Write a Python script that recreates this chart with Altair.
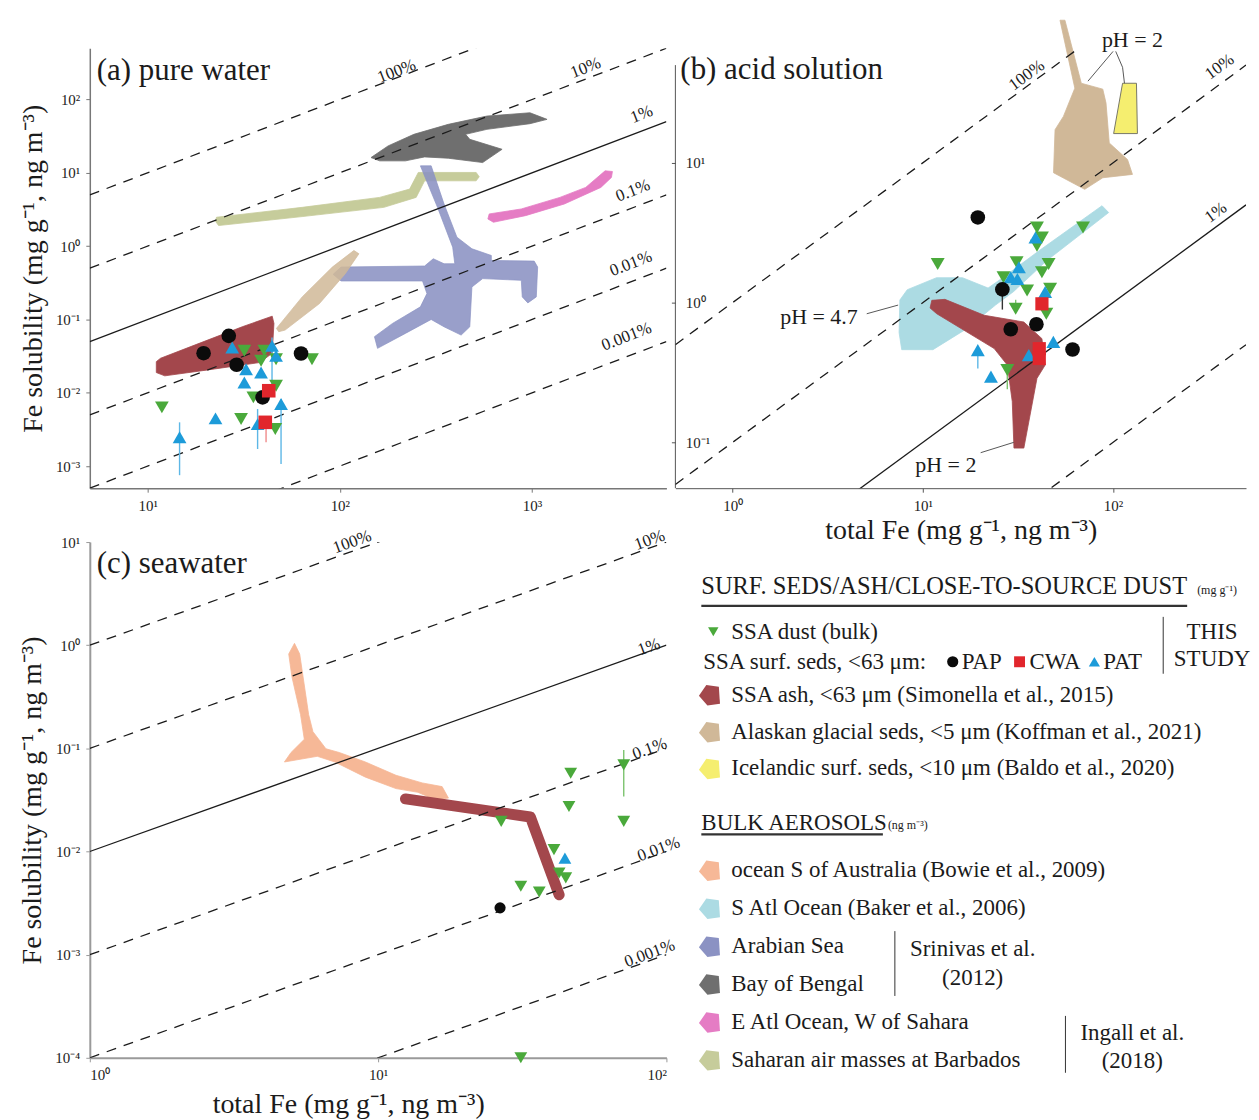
import altair as alt
import pandas as pd

FONT = "Liberation Serif"
INK = "#1b1b1b"

C_ASH, C_TAN, C_YEL = "#a3474c", "#d0b898", "#f5ee6f"
C_PEACH, C_LBLUE, C_ARAB = "#f6b897", "#acdbe3", "#8b92c3"
C_BENG, C_PINK, C_OLIVE = "#6f6f6f", "#e57cc4", "#c6cc9b"
C_GREEN, C_BLUE, C_RED, C_BLACK = "#4aa93b", "#1d9bd9", "#e1262c", "#0b0b0b"

Y_TITLE = "Fe solubility (mg g⁻¹, ng m⁻³)"
X_TITLE = "total Fe (mg g⁻¹, ng m⁻³)"
PANEL_TITLES = ["(a) pure water", "(b) acid solution", "(c) seawater"]
PCT_VALUES = [100, 10, 1, 0.1, 0.01, 0.001]
PCT_LABELS = ["100%", "10%", "1%", "0.1%", "0.01%", "0.001%"]

A_XEXP, A_YEXP = [1, 2, 3], [-3, -2, -1, 0, 1, 2]
B_XEXP, B_YEXP = [0, 1, 2], [-1, 0, 1]
C_XEXP, C_YEXP = [0, 1, 2], [-4, -3, -2, -1, 0, 1]

# ---------------- panel (a) pure water  (values are log10 of total Fe / Fe solubility)
A_OLIVE_LX = [1.358, 1.804, 2.207, 2.363, 2.408, 2.709, 2.725, 2.709, 2.441, 2.397, 2.229, 1.804, 1.369, 1.353]
A_OLIVE_LY = [0.394, 0.529, 0.665, 0.778, 1.005, 1.005, 0.946, 0.891, 0.891, 0.665, 0.529, 0.403, 0.281, 0.339]
A_PINK_LX = [2.777, 2.944, 3.145, 3.279, 3.380, 3.418, 3.413, 3.358, 3.168, 2.966, 2.799, 2.770]
A_PINK_LY = [0.439, 0.507, 0.665, 0.801, 1.027, 1.018, 0.937, 0.801, 0.575, 0.416, 0.326, 0.371]
A_BENG_LX = [2.162, 2.251, 2.385, 2.564, 2.765, 2.989, 3.078, 2.989, 2.765, 2.654, 2.676, 2.844, 2.743, 2.564, 2.441, 2.341, 2.207]
A_BENG_LY = [1.208, 1.367, 1.525, 1.661, 1.774, 1.819, 1.729, 1.670, 1.593, 1.525, 1.457, 1.321, 1.140, 1.199, 1.217, 1.163, 1.163]
A_ARAB_LX = [2.419, 2.475, 2.542, 2.609, 2.687, 2.788, 2.788, 3.011, 3.029, 3.022, 2.978, 2.949, 2.944, 2.743, 2.687,
             2.676, 2.631, 2.542, 2.475, 2.341, 2.196, 2.180, 2.274, 2.419, 2.453, 2.430, 2.006, 1.965, 2.006, 2.441,
             2.486, 2.542, 2.598, 2.587, 2.508]
A_ARAB_LY = [1.095, 1.095, 0.575, 0.122, -0.036, -0.127, -0.195, -0.204, -0.285, -0.692, -0.774, -0.692, -0.466, -0.443,
             -0.557, -1.100, -1.213, -1.100, -1.000, -1.190, -1.394, -1.235, -1.054, -0.828, -0.647, -0.475, -0.475,
             -0.385, -0.285, -0.271, -0.172, -0.240, -0.240, -0.014, 0.529]
A_TAN_LX = [1.670, 1.804, 1.961, 2.073, 2.099, 2.028, 1.894, 1.715, 1.682]
A_TAN_LY = [-1.122, -0.692, -0.285, -0.059, -0.104, -0.376, -0.783, -1.145, -1.167]
A_ASH_LX = [1.045, 1.067, 1.268, 1.492, 1.648, 1.657, 1.648, 1.581, 1.313, 1.089, 1.045]
A_ASH_LY = [-1.575, -1.529, -1.326, -1.100, -0.955, -1.054, -1.462, -1.588, -1.688, -1.769, -1.724]
A_PAP_LX = [1.291, 1.422, 1.463, 1.798, 1.598]
A_PAP_LY = [-1.460, -1.223, -1.618, -1.464, -2.063]
A_CWA_LX = [1.630, 1.612]
A_CWA_LY = [-1.972, -2.403]
A_PAT_LX = [1.166, 1.353, 1.440, 1.512, 1.503, 1.590, 1.647, 1.694, 1.572, 1.668]
A_PAT_LY = [-2.607, -2.349, -1.383, -1.678, -1.859, -1.723, -1.360, -2.154, -2.427, -1.496]
A_DUST_LX = [1.074, 1.486, 1.503, 1.590, 1.668, 1.855, 1.550, 1.668, 1.664, 1.607]
A_DUST_LY = [-2.199, -2.358, -1.427, -1.563, -1.542, -1.542, -2.063, -1.904, -2.494, -1.427]
A_ERRB_LX, A_ERRB_HI, A_ERRB_LO = [1.166, 1.647, 1.694, 1.572], [-2.403, -1.247, -2.086, -2.222], [-3.124, -2.036, -2.970, -2.767]
A_ERRR_LX, A_ERRR_HI, A_ERRR_LO = [1.616], [-2.403], [-2.675]
A_PCT_LX = [2.296, 3.279, 3.570, 3.525, 3.514, 3.492]
A_PCT_LY = [2.385, 2.430, 1.796, 0.756, -0.240, -1.235]

# ---------------- panel (b) acid solution
B_TAN_LX = [1.721, 1.747, 1.833, 1.946, 1.963, 1.980, 2.076, 2.102, 1.946, 1.851, 1.687, 1.695, 1.739, 1.799]
B_TAN_LY = [2.020, 2.020, 1.569, 1.527, 1.427, 1.142, 1.023, 0.917, 0.893, 0.810, 0.929, 1.237, 1.332, 1.534]
B_YEL_LX = [2.050, 2.123, 2.128, 2.003]
B_YEL_LY = [1.569, 1.569, 1.209, 1.209]
B_LBLUE_LX = [0.879, 0.918, 1.072, 1.208, 1.343, 1.420, 1.614, 1.942, 1.977, 1.652, 1.478, 1.382, 1.227, 1.053, 0.889, 0.875]
B_LBLUE_LY = [0.018, 0.092, 0.178, 0.178, 0.104, 0.178, 0.374, 0.693, 0.644, 0.301, 0.080, -0.018, -0.190, -0.337, -0.337, -0.215]
B_ASH_LX = [1.047, 1.116, 1.323, 1.531, 1.626, 1.643, 1.600, 1.531, 1.479, 1.470, 1.444, 1.375, 1.073, 1.038]
B_ASH_LY = [0.016, 0.023, -0.091, -0.139, -0.258, -0.447, -0.542, -1.041, -1.041, -0.708, -0.447, -0.329, -0.080, -0.039]
B_PAP_LX = [1.289, 1.418, 1.462, 1.597, 1.787]
B_PAP_LY = [0.609, 0.094, -0.191, -0.155, -0.336]
B_CWA_LX = [1.626, 1.612, 1.612]
B_CWA_LY = [-0.009, -0.330, -0.400]
B_PAT_LX = [1.592, 1.505, 1.497, 1.462, 1.643, 1.686, 1.289, 1.358, 1.557]
B_PAT_LY = [0.466, 0.253, 0.169, 0.181, 0.075, -0.281, -0.340, -0.530, -0.376]
B_DUST_LX = [1.078, 1.600, 1.626, 1.600, 1.842, 1.493, 1.424, 1.548, 1.626, 1.661, 1.669, 1.649, 1.488, 1.444]
B_DUST_LY = [0.276, 0.537, 0.466, 0.407, 0.537, 0.288, 0.181, 0.087, 0.217, 0.276, 0.098, -0.080, -0.044, -0.483]
B_ERRK_LX, B_ERRK_HI, B_ERRK_LO = [1.418], [0.094], [-0.050]
B_ERRB_LX, B_ERRB_HI, B_ERRB_LO = [1.289], [-0.340], [-0.471]
B_ERRG_LX, B_ERRG_HI, B_ERRG_LO = [1.488, 1.444], [0.020, -0.483], [-0.044, -0.620]
B_PCT_LX = [1.546, 2.560, 2.541]
B_PCT_LY = [1.626, 1.687, 0.644]
B_PH_TEXT = ["pH = 4.7", "pH = 2", "pH = 2"]
B_PH_LX = [0.454, 1.121, 2.102]
B_PH_LY = [-0.104, -1.160, 1.875]
B_LEAD_ID = ["l1", "l1", "l2", "l2", "l3", "l3", "l4", "l4", "l4"]
B_LEAD_LX = [0.705, 0.870, 1.304, 1.478, 2.000, 1.868, 2.014, 2.050, 2.060]
B_LEAD_LY = [-0.080, -0.018, -1.074, -1.000, 1.797, 1.584, 1.797, 1.683, 1.569]

# ---------------- panel (c) seawater
C_PEACH_LX = [0.690, 0.710, 0.728, 0.759, 0.774, 0.819, 0.865, 0.956, 1.062, 1.153, 1.222, 1.244, 1.199, 1.138,
              1.062, 0.956, 0.850, 0.789, 0.675, 0.698, 0.744, 0.731, 0.701]
C_PEACH_LY = [-0.085, 0.018, -0.085, -0.673, -0.838, -1.004, -1.040, -1.132, -1.261, -1.335, -1.371, -1.482, -1.500,
              -1.426, -1.390, -1.279, -1.132, -1.077, -1.132, -1.040, -0.912, -0.673, -0.305]
C_ASH_LX = [1.095, 1.528, 1.628]
C_ASH_LY = [-1.490, -1.665, -2.420]
C_DUST_LX = [1.668, 1.662, 1.427, 1.852, 1.852, 1.610, 1.628, 1.651, 1.495, 1.559, 1.495]
C_DUST_LY = [-1.241, -1.563, -1.708, -1.160, -1.708, -1.982, -2.208, -2.256, -2.337, -2.392, -4.000]
C_PAT_LX, C_PAT_LY = [1.648], [-2.064]
C_PAP_LX, C_PAP_LY = [1.423], [-2.546]
C_ERRG_LX, C_ERRG_HI, C_ERRG_LO = [1.852], [-1.015], [-1.466]
C_PCT_LX = [0.910, 1.942, 1.939, 1.942, 1.973, 1.942]
C_PCT_LY = [1.000, 1.018, -0.018, -1.004, -1.978, -2.989]

PANEL_TITLE_LX = [0.735, -0.275, 0.024]
PANEL_TITLE_LY = [2.386, 1.662, 0.787]

# ---------------- legend text
LEG_H1, LEG_H1_UNIT = "SURF. SEDS/ASH/CLOSE-TO-SOURCE DUST", "(mg g⁻¹)"
LEG_H2, LEG_H2_UNIT = "BULK AEROSOLS", "(ng m⁻³)"
LEG_DUST = "SSA dust (bulk)"
LEG_SEDS = "SSA surf. seds, <63 μm:"
LEG_SITES = ["PAP", "CWA", "PAT"]
LEG_THIS = ["THIS", "STUDY"]
LEG_REF1 = ["SSA ash, <63 μm (Simonella et al., 2015)",
            "Alaskan glacial seds, <5 μm (Koffman et al., 2021)",
            "Icelandic surf. seds, <10 μm (Baldo et al., 2020)"]
LEG_REF1_COL = [C_ASH, C_TAN, C_YEL]
LEG_REF2 = ["ocean S of Australia (Bowie et al., 2009)", "S Atl Ocean (Baker et al., 2006)", "Arabian Sea",
            "Bay of Bengal", "E Atl Ocean, W of Sahara", "Saharan air masses at Barbados"]
LEG_REF2_COL = [C_PEACH, C_LBLUE, C_ARAB, C_BENG, C_PINK, C_OLIVE]
LEG_SRIN = ["Srinivas et al.", "(2012)"]
LEG_INGALL = ["Ingall et al.", "(2018)"]

# =====================================================================
SUP = {"0": "⁰", "1": "¹", "2": "²", "3": "³", "4": "⁴", "5": "⁵", "6": "⁶",
       "7": "⁷", "8": "⁸", "9": "⁹", "-": "⁻"}
TITLE_SIZE = 31
AXIS_TITLE_SIZE = 28
PCT_SIZE = 17
LEG_SIZE = 23


def pow_label(e):
    return "10" + "".join(SUP[c] for c in str(e))


def label_expr(exps):
    s = "''"
    for e in reversed(exps):
        s = f"(round(log(datum.value)/LN10)=={e}) ? '{pow_label(e)}' : {s}"
    return s


def L(v):
    return [10.0 ** t for t in v]


def frame(lx, ly, **extra):
    d = {"x": L(lx), "y": L(ly), "o": list(range(len(lx)))}
    d.update(extra)
    return pd.DataFrame(d)


def mk_axis(exps, title, color, **kw):
    base = dict(values=[10.0 ** e for e in exps], labelExpr=label_expr(exps), title=title, grid=False,
                domainColor=color, tickColor=color, tickSize=4, labelFont=FONT, labelFontSize=15,
                labelColor=INK, titleFont=FONT, titleFontSize=AXIS_TITLE_SIZE, titleFontWeight="normal",
                titleColor=INK)
    base.update(kw)
    return alt.Axis(**base)


def poly(lx, ly, X, Y, color, op=1.0, stroke=None, sw=0.8):
    return alt.Chart(frame(lx, ly)).mark_line(
        interpolate="linear-closed", fill=color, fillOpacity=op, stroke=stroke or color,
        strokeOpacity=1.0 if stroke else op, strokeWidth=sw, clip=False
    ).encode(x=X, y=Y, order="o:Q")


def pts(lx, ly, X, Y, shape, color, size):
    return alt.Chart(frame(lx, ly)).mark_point(
        shape=shape, filled=True, color=color, size=size, opacity=1, strokeWidth=0, clip=False
    ).encode(x=X, y=Y)


def errs(lx, hi, lo, X, Y, color, sw=1.4):
    df = pd.DataFrame({"x": L(lx), "y": L(hi), "y2": L(lo)})
    return alt.Chart(df).mark_rule(color=color, strokeWidth=sw).encode(x=X, y=Y, y2="y2:Q")


def iso(vals, labs, xdom, X, Y, dashed=True):
    rows = [{"lab": lab, "x": xv, "y": p / 100.0 * xv} for p, lab in zip(vals, labs) for xv in xdom]
    kw = dict(color=INK, strokeWidth=1.3, clip=True)
    if dashed:
        kw["strokeDash"] = [10, 8]
    return alt.Chart(pd.DataFrame(rows)).mark_line(**kw).encode(x=X, y=Y, detail="lab:N")


def texts(lx, ly, t, X, Y, size, angle=0, align="center", color=INK):
    df = frame(lx, ly, t=t)
    return alt.Chart(df).mark_text(font=FONT, fontSize=size, align=align, baseline="middle",
                                   color=color, angle=angle).encode(x=X, y=Y, text="t:N")


def iso_pair(vals, labs, xdom, X, Y):
    dv = [(v, l) for v, l in zip(vals, labs) if v != 1]
    return [iso([v for v, _ in dv], [l for _, l in dv], xdom, X, Y, True),
            iso([1], ["1%"], xdom, X, Y, False)]


# ---------------- panel (a)
A_XDOM, A_YDOM = [5, 5000], [5e-4, 500]
XA = alt.X("x:Q", scale=alt.Scale(type="log", domain=A_XDOM, nice=False),
           axis=mk_axis(A_XEXP, None, "#777777", labelPadding=6, domainWidth=1.5))
YA = alt.Y("y:Q", scale=alt.Scale(type="log", domain=A_YDOM, nice=False),
           axis=mk_axis(A_YEXP, Y_TITLE, "#777777", labelPadding=6, titlePadding=8, domainWidth=1.5))
pa = alt.layer(
    poly(A_OLIVE_LX, A_OLIVE_LY, XA, YA, C_OLIVE),
    poly(A_PINK_LX, A_PINK_LY, XA, YA, C_PINK),
    poly(A_BENG_LX, A_BENG_LY, XA, YA, C_BENG),
    poly(A_ARAB_LX, A_ARAB_LY, XA, YA, C_ARAB, op=0.88),
    poly(A_TAN_LX, A_TAN_LY, XA, YA, C_TAN, op=0.85),
    poly(A_ASH_LX, A_ASH_LY, XA, YA, C_ASH),
    *iso_pair(PCT_VALUES, PCT_LABELS, A_XDOM, XA, YA),
    texts(A_PCT_LX, A_PCT_LY, PCT_LABELS, XA, YA, PCT_SIZE, angle=339),
    texts(PANEL_TITLE_LX[:1], PANEL_TITLE_LY[:1], PANEL_TITLES[:1], XA, YA, TITLE_SIZE, align="left"),
    errs(A_ERRB_LX, A_ERRB_HI, A_ERRB_LO, XA, YA, "#5db7e6"),
    errs(A_ERRR_LX, A_ERRR_HI, A_ERRR_LO, XA, YA, "#f08a8a"),
    pts(A_DUST_LX, A_DUST_LY, XA, YA, "triangle-down", C_GREEN, 190),
    pts(A_PAP_LX, A_PAP_LY, XA, YA, "circle", C_BLACK, 215),
    pts(A_PAT_LX, A_PAT_LY, XA, YA, "triangle-up", C_BLUE, 190),
    pts(A_CWA_LX, A_CWA_LY, XA, YA, "square", C_RED, 185),
).properties(width=578, height=441)

# ---------------- panel (b)
B_XDOM, B_YDOM = [0.5, 500], [0.047, 66]
XB = alt.X("x:Q", scale=alt.Scale(type="log", domain=B_XDOM, nice=False),
           axis=mk_axis(B_XEXP, X_TITLE, "#555555", labelPadding=6, titlePadding=3))
YB = alt.Y("y:Q", scale=alt.Scale(type="log", domain=B_YDOM, nice=False),
           axis=mk_axis(B_YEXP, None, "#555555", domain=False, labelAlign="left", labelPadding=-14))
b_axis_line = alt.Chart(pd.DataFrame({"x": [B_XDOM[0]], "y": [B_YDOM[0]], "y2": [50.0]})).mark_rule(
    color="#555555", strokeWidth=1).encode(x=XB, y=YB, y2="y2:Q")
b_lead = alt.Chart(frame(B_LEAD_LX, B_LEAD_LY, g=B_LEAD_ID)).mark_line(
    color="#444444", strokeWidth=0.9, clip=False).encode(x=XB, y=YB, detail="g:N", order="o:Q")
pb = alt.layer(
    b_axis_line,
    poly(B_LBLUE_LX, B_LBLUE_LY, XB, YB, C_LBLUE),
    poly(B_TAN_LX, B_TAN_LY, XB, YB, C_TAN),
    poly(B_YEL_LX, B_YEL_LY, XB, YB, C_YEL, stroke="#777766", sw=1),
    poly(B_ASH_LX, B_ASH_LY, XB, YB, C_ASH),
    *iso_pair(PCT_VALUES[:4], PCT_LABELS[:4], B_XDOM, XB, YB),
    texts(B_PCT_LX, B_PCT_LY, PCT_LABELS[:3], XB, YB, PCT_SIZE, angle=324),
    texts(PANEL_TITLE_LX[1:2], PANEL_TITLE_LY[1:2], PANEL_TITLES[1:2], XB, YB, TITLE_SIZE, align="left"),
    b_lead,
    texts(B_PH_LX, B_PH_LY, B_PH_TEXT, XB, YB, 22),
    errs(B_ERRK_LX, B_ERRK_HI, B_ERRK_LO, XB, YB, "#333333"),
    errs(B_ERRB_LX, B_ERRB_HI, B_ERRB_LO, XB, YB, "#5db7e6"),
    errs(B_ERRG_LX, B_ERRG_HI, B_ERRG_LO, XB, YB, "#7cc36e"),
    pts(B_DUST_LX, B_DUST_LY, XB, YB, "triangle-down", C_GREEN, 195),
    pts(B_PAT_LX, B_PAT_LY, XB, YB, "triangle-up", C_BLUE, 195),
    pts(B_PAP_LX, B_PAP_LY, XB, YB, "circle", C_BLACK, 215),
    pts(B_CWA_LX, B_CWA_LY, XB, YB, "square", C_RED, 175),
).properties(width=572, height=441)

# ---------------- panel (c)
C_XDOM, C_YDOM = [1, 100], [1e-4, 10]
XC = alt.X("x:Q", scale=alt.Scale(type="log", domain=C_XDOM, nice=False),
           axis=mk_axis(C_XEXP, X_TITLE, "#9a9a9a", labelPadding=6, titlePadding=8, titleX=259, domainWidth=2))
YC = alt.Y("y:Q", scale=alt.Scale(type="log", domain=C_YDOM, nice=False),
           axis=mk_axis(C_YEXP, Y_TITLE, "#9a9a9a", labelPadding=6, titlePadding=8, domainWidth=2))
c_ash = alt.Chart(frame(C_ASH_LX, C_ASH_LY)).mark_line(
    color=C_ASH, strokeWidth=11, strokeCap="round", strokeJoin="round", clip=False
).encode(x=XC, y=YC, order="o:Q")
pc = alt.layer(
    poly(C_PEACH_LX, C_PEACH_LY, XC, YC, C_PEACH),
    c_ash,
    *iso_pair(PCT_VALUES, PCT_LABELS, C_XDOM, XC, YC),
    texts(C_PCT_LX, C_PCT_LY, PCT_LABELS, XC, YC, PCT_SIZE, angle=340),
    texts(PANEL_TITLE_LX[2:], PANEL_TITLE_LY[2:], PANEL_TITLES[2:], XC, YC, TITLE_SIZE, align="left"),
    errs(C_ERRG_LX, C_ERRG_HI, C_ERRG_LO, XC, YC, "#7cc36e"),
    pts(C_DUST_LX, C_DUST_LY, XC, YC, "triangle-down", C_GREEN, 165),
    pts(C_PAT_LX, C_PAT_LY, XC, YC, "triangle-up", C_BLUE, 165),
    pts(C_PAP_LX, C_PAP_LY, XC, YC, "circle", C_BLACK, 125),
).properties(width=578, height=517)

# ---------------- legend panel (pixel-like linear coordinates)
XL = alt.X("x:Q", scale=alt.Scale(domain=[0, 560], nice=False, zero=False), axis=None)
YL = alt.Y("y:Q", scale=alt.Scale(domain=[0, 517], reverse=True, nice=False, zero=False), axis=None)

head_rows = [(26, 45, LEG_H1)]
left_rows = [(56, 90, LEG_DUST), (28, 120, LEG_SEDS)]
left_rows += [(xx, 120, s) for xx, s in zip([287, 355, 429], LEG_SITES)]
left_rows += [(56, 153 + 37 * i, s) for i, s in enumerate(LEG_REF1)]
left_rows += [(26, 282, LEG_H2)]
left_rows += [(56, 329 + 38 * i, s) for i, s in enumerate(LEG_REF2)]
center_rows = [(538, 90, LEG_THIS[0]), (538, 117, LEG_THIS[1]),
               (298, 408, LEG_SRIN[0]), (298, 437, LEG_SRIN[1]),
               (458, 492, LEG_INGALL[0]), (458, 520, LEG_INGALL[1])]
unit_rows = [(523, 48, LEG_H1_UNIT), (213, 284, LEG_H2_UNIT)]
rule_rows = [(26, 513, 64, 64, 2.2), (26, 208, 293, 293, 2.2),
             (489, 489, 75, 132, 1.0), (220, 220, 390, 455, 1.0), (391, 391, 475, 532, 1.0)]
swatch_rows = [(35, 153 + 37 * i, s) for i, s in enumerate(LEG_REF1)]
swatch_rows += [(35, 329 + 38 * i, s) for i, s in enumerate(LEG_REF2)]
PENT = "M-1,0.1L-0.35,-0.85L0.75,-0.7L0.85,0.8L-0.25,0.95Z"


def leg_text(rows, size, align):
    df = pd.DataFrame(rows, columns=["x", "y", "t"])
    return alt.Chart(df).mark_text(font=FONT, fontSize=size, align=align, baseline="middle",
                                   color=INK).encode(x=XL, y=YL, text="t:N")


def leg_mark(x, y, shape, color, size):
    return alt.Chart(pd.DataFrame({"x": [x], "y": [y]})).mark_point(
        shape=shape, filled=True, color=color, size=size, opacity=1, strokeWidth=0).encode(x=XL, y=YL)


rules_df = pd.DataFrame(rule_rows, columns=["x", "x2", "y", "y2", "w"])
sw_df = pd.DataFrame(swatch_rows, columns=["x", "y", "t"])
leg = alt.layer(
    alt.Chart(rules_df).mark_rule(color="#333333").encode(
        x=XL, x2="x2:Q", y=YL, y2="y2:Q", strokeWidth=alt.StrokeWidth("w:Q", scale=None)),
    alt.Chart(sw_df).mark_point(shape=PENT, filled=True, size=520, opacity=1, strokeWidth=0).encode(
        x=XL, y=YL, fill=alt.Fill("t:N", scale=alt.Scale(domain=LEG_REF1 + LEG_REF2,
                                                         range=LEG_REF1_COL + LEG_REF2_COL), legend=None)),
    leg_mark(38, 90, "triangle-down", C_GREEN, 110),
    leg_mark(278, 120, "circle", C_BLACK, 125),
    leg_mark(345, 120, "square", C_RED, 120),
    leg_mark(420, 120, "triangle-up", C_BLUE, 125),
    leg_text(head_rows, 24.5, "left"),
    leg_text(left_rows, LEG_SIZE, "left"),
    leg_text(center_rows, LEG_SIZE, "center"),
    leg_text(unit_rows, 12, "left"),
).properties(width=560, height=517)

chart = alt.concat(
    pa, pb, pc, leg, columns=2, spacing={"row": 54, "column": 9}, bounds="flush"
).properties(
    padding={"left": 10, "top": 9, "right": 0, "bottom": 0}
).configure_view(stroke=None)

chart.save("out.html", embed_options={"renderer": "svg", "actions": False})
